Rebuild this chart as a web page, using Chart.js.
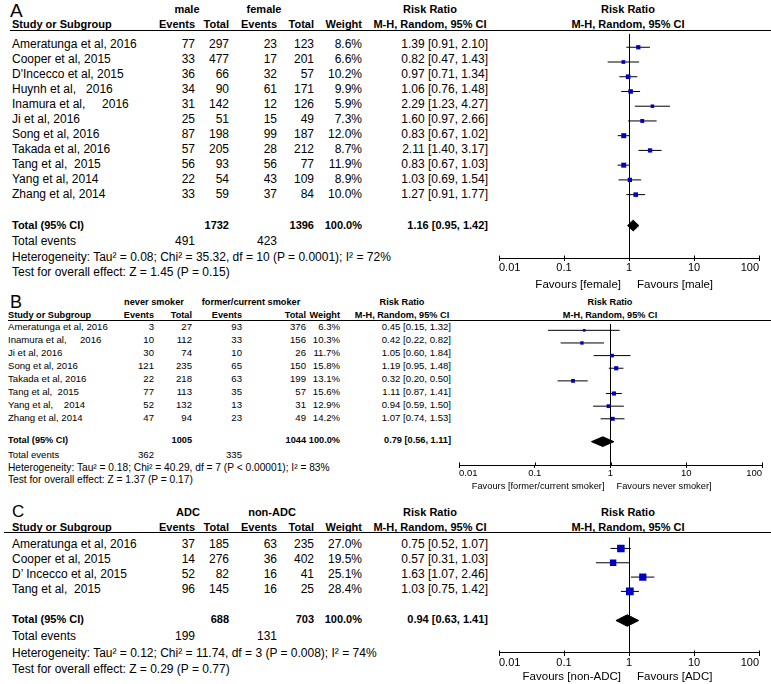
<!DOCTYPE html>
<html>
<head>
<meta charset="utf-8">
<title>Forest plots</title>
<script src="https://cdn.jsdelivr.net/npm/chart.js@4.4.1/dist/chart.umd.min.js"></script>
<style>
html, body { margin: 0; padding: 0; background: #fff; }
#page { position: relative; width: 771px; height: 684px; overflow: hidden; font-family: "Liberation Sans", Arial, sans-serif; color: #000; }
.t { position: absolute; white-space: pre; line-height: 1; }
.rule { position: absolute; height: 1px; background: #000; }
canvas { position: absolute; }
</style>
</head>
<body>
<div id="page"></div>
<script>
// ---- A: male vs female ----
var studiesA = ['Ameratunga et al, 2016', 'Cooper et al, 2015', "D'Incecco et al, 2015", 'Huynh et al,   2016', 'Inamura et al,     2016', 'Ji et al, 2016', 'Song et al, 2016', 'Takada et al, 2016', 'Tang et al,  2015', 'Yang et al, 2014', 'Zhang et al, 2014'];
var maleEventsA = [77, 33, 36, 34, 31, 25, 87, 57, 56, 22, 33];
var maleTotalA = [297, 477, 66, 90, 142, 51, 198, 205, 93, 54, 59];
var femaleEventsA = [23, 17, 32, 61, 12, 15, 99, 28, 56, 43, 37];
var femaleTotalA = [123, 201, 57, 171, 126, 49, 187, 212, 77, 109, 84];
var weightA = [8.6, 6.6, 10.2, 9.9, 5.9, 7.3, 12.0, 8.7, 11.9, 8.9, 10.0];
var rrA = [1.39, 0.82, 0.97, 1.06, 2.29, 1.60, 0.83, 2.11, 0.83, 1.03, 1.27];
var lowA = [0.91, 0.47, 0.71, 0.76, 1.23, 0.97, 0.67, 1.40, 0.67, 0.69, 0.91];
var highA = [2.10, 1.43, 1.34, 1.48, 4.27, 2.66, 1.02, 3.17, 1.03, 1.54, 1.77];
var totalA = { n1: 1732, n2: 1396, e1: 491, e2: 423, rr: 1.16, lo: 0.95, hi: 1.42 };
var groupsA = ['male', 'female'];
var favoursA = ['Favours [female]', 'Favours [male]'];
var hetA = 'Heterogeneity: Tau\u00b2 = 0.08; Chi\u00b2 = 35.32, df = 10 (P = 0.0001); I\u00b2 = 72%';
var testA = 'Test for overall effect: Z = 1.45 (P = 0.15)';

// ---- B: never vs former/current smoker ----
var studiesB = ['Ameratunga et al, 2016', 'Inamura et al,     2016', 'Ji et al, 2016', 'Song et al, 2016', 'Takada et al, 2016', 'Tang et al,  2015', 'Yang et al,    2014', 'Zhang et al, 2014'];
var neverEventsB = [3, 10, 30, 121, 22, 77, 52, 47];
var neverTotalB = [27, 112, 74, 235, 218, 113, 132, 94];
var formerEventsB = [93, 33, 10, 65, 63, 35, 13, 23];
var formerTotalB = [376, 156, 26, 150, 199, 57, 31, 49];
var weightB = [6.3, 10.3, 11.7, 15.8, 13.1, 15.6, 12.9, 14.2];
var rrB = [0.45, 0.42, 1.05, 1.19, 0.32, 1.11, 0.94, 1.07];
var lowB = [0.15, 0.22, 0.60, 0.95, 0.20, 0.87, 0.59, 0.74];
var highB = [1.32, 0.82, 1.84, 1.48, 0.50, 1.41, 1.50, 1.53];
var totalB = { n1: 1005, n2: 1044, e1: 362, e2: 335, rr: 0.79, lo: 0.56, hi: 1.11 };
var groupsB = ['never smoker', 'former/current smoker'];
var favoursB = ['Favours [former/current smoker]', 'Favours never smoker]'];
var hetB = 'Heterogeneity: Tau\u00b2 = 0.18; Chi\u00b2 = 40.29, df = 7 (P < 0.00001); I\u00b2 = 83%';
var testB = 'Test for overall effect: Z = 1.37 (P = 0.17)';

// ---- C: ADC vs non-ADC ----
var studiesC = ['Ameratunga et al, 2016', 'Cooper et al, 2015', 'D\u2019 Incecco et al, 2015', 'Tang et al,  2015'];
var adcEventsC = [37, 14, 52, 96];
var adcTotalC = [185, 276, 82, 145];
var nonEventsC = [63, 36, 16, 16];
var nonTotalC = [235, 402, 41, 25];
var weightC = [27.0, 19.5, 25.1, 28.4];
var rrC = [0.75, 0.57, 1.63, 1.03];
var lowC = [0.52, 0.31, 1.07, 0.75];
var highC = [1.07, 1.03, 2.46, 1.42];
var totalC = { n1: 688, n2: 703, e1: 199, e2: 131, rr: 0.94, lo: 0.63, hi: 1.41 };
var groupsC = ['ADC', 'non-ADC'];
var favoursC = ['Favours [non-ADC]', 'Favours [ADC]'];
var hetC = 'Heterogeneity: Tau\u00b2 = 0.12; Chi\u00b2 = 11.74, df = 3 (P = 0.008); I\u00b2 = 74%';
var testC = 'Test for overall effect: Z = 0.29 (P = 0.77)';

var xTicks = [0.01, 0.1, 1, 10, 100];
var BLUE = '#0000c4';

Chart.defaults.font.family = '"Liberation Sans", Arial, sans-serif';
Chart.defaults.color = '#000';

var page = document.getElementById('page');

function put(x, y, s, size, bold, align) {
	var d = document.createElement('div');
	d.className = 't';
	d.textContent = s;
	d.style.fontSize = size + 'px';
	if (bold) d.style.fontWeight = 'bold';
	d.style.left = x + 'px';
	d.style.top = (y - size / 2) + 'px';
	if (align === 'right') d.style.transform = 'translateX(-100%)';
	if (align === 'center') d.style.transform = 'translateX(-50%)';
	page.appendChild(d);
}

function rule(x, y, w) {
	var d = document.createElement('div');
	d.className = 'rule';
	d.style.left = x + 'px';
	d.style.top = y + 'px';
	d.style.width = w + 'px';
	page.appendChild(d);
}

function ci(v, lo, hi) {
	return v.toFixed(2) + ' [' + lo.toFixed(2) + ', ' + hi.toFixed(2) + ']';
}

// upward tick halves + the two "Favours" captions around RR = 1
var forestDeco = {
	id: 'forestDeco',
	afterDraw: function (chart, args, o) {
		var xs = chart.scales.x, c = chart.ctx, y0 = Math.round(xs.top) + 0.5;
		c.save();
		c.strokeStyle = '#000';
		c.lineWidth = 1;
		xs.ticks.forEach(function (t) {
			var px = Math.round(xs.getPixelForValue(t.value)) + 0.5;
			c.beginPath();
			c.moveTo(px, y0 - o.up);
			c.lineTo(px, y0);
			c.stroke();
		});
		var p1 = xs.getPixelForValue(1);
		c.fillStyle = '#000';
		c.font = o.size + 'px "Liberation Sans", Arial, sans-serif';
		c.textBaseline = 'middle';
		c.textAlign = 'right';
		c.fillText(o.left, p1 - o.gap, y0 + o.dy);
		c.textAlign = 'left';
		c.fillText(o.right, p1 + o.gap, y0 + o.dy);
		c.restore();
	}
};

function panel(D, L) {
	var i, c = L.col;
	put(L.letterX, L.letterY, D.letter, L.letterSize);
	put(L.g1, L.h1, D.groups[0], L.hs, true, 'center');
	put(L.g2, L.h1, D.groups[1], L.hs, true, 'center');
	put(L.rrHead, L.h1, 'Risk Ratio', L.hs, true, 'center');
	put(L.plotHead, L.h1, 'Risk Ratio', L.hs, true, 'center');
	put(L.nameX, L.h2, 'Study or Subgroup', L.hs, true);
	put(c[0], L.h2, 'Events', L.hs, true, 'right');
	put(c[1], L.h2, 'Total', L.hs, true, 'right');
	put(c[2], L.h2, 'Events', L.hs, true, 'right');
	put(c[3], L.h2, 'Total', L.hs, true, 'right');
	put(c[4], L.h2, 'Weight', L.hs, true, 'right');
	put(L.rrHead, L.h2, 'M-H, Random, 95% CI', L.hs, true, 'center');
	put(L.plotHead, L.h2, 'M-H, Random, 95% CI', L.hs, true, 'center');
	rule(L.ruleX, L.ruleY, 771 - L.ruleX);

	for (i = 0; i < D.names.length; i++) {
		var y = L.row0 + L.step * i;
		put(L.nameX, y, D.names[i], L.fs);
		put(c[0], y, String(D.e1[i]), L.fs, false, 'right');
		put(c[1], y, String(D.n1[i]), L.fs, false, 'right');
		put(c[2], y, String(D.e2[i]), L.fs, false, 'right');
		put(c[3], y, String(D.n2[i]), L.fs, false, 'right');
		put(c[4], y, D.w[i].toFixed(1) + '%', L.fs, false, 'right');
		put(c[5], y, ci(D.rr[i], D.lo[i], D.hi[i]), L.fs, false, 'right');
	}
	var T = D.total;
	put(L.nameX, L.totalY, 'Total (95% CI)', L.hs, true);
	put(c[1], L.totalY, String(T.n1), L.hs, true, 'right');
	put(c[3], L.totalY, String(T.n2), L.hs, true, 'right');
	put(c[4], L.totalY, '100.0%', L.hs, true, 'right');
	put(c[5], L.totalY, ci(T.rr, T.lo, T.hi), L.hs, true, 'right');
	put(L.nameX, L.eventsY, 'Total events', L.fs);
	put(c[0], L.eventsY, String(T.e1), L.fs, false, 'right');
	put(c[2], L.eventsY, String(T.e2), L.fs, false, 'right');
	put(L.nameX, L.hetY, D.het, L.footFs);
	put(L.nameX, L.testY, D.test, L.footFs);

	// forest plot
	var cv = document.createElement('canvas');
	var top = L.ruleY, areaH = L.axisY - top;
	cv.width = L.cvW;
	cv.height = areaH + L.axisH;
	cv.style.left = L.cvX + 'px';
	cv.style.top = top + 'px';
	page.appendChild(cv);

	var datasets = [{
		data: D.rr.map(function (v, k) { return { x: v, y: k }; }),
		showLine: false,
		pointStyle: 'rect',
		pointRadius: D.w.map(function (w) { return L.sq * Math.sqrt(w) / Math.SQRT2; }),
		pointBackgroundColor: BLUE,
		pointBorderWidth: 0,
		order: 0
	}];
	for (i = 0; i < D.rr.length; i++) {
		datasets.push({
			data: [{ x: D.lo[i], y: i }, { x: D.hi[i], y: i }],
			borderColor: '#000',
			borderWidth: 1,
			pointRadius: 0,
			order: 1
		});
	}
	var ty = (L.totalY - L.row0) / L.step, dh = L.dia / L.step;
	datasets.push({
		data: [{ x: T.lo, y: ty }, { x: T.rr, y: ty - dh }, { x: T.hi, y: ty }, { x: T.rr, y: ty + dh }, { x: T.lo, y: ty }],
		borderColor: '#000',
		borderWidth: 1,
		backgroundColor: '#000',
		fill: 'shape',
		pointRadius: 0,
		order: 1
	});

	new Chart(cv.getContext('2d'), {
		type: 'line',
		data: { datasets: datasets },
		options: {
			responsive: false,
			animation: false,
			devicePixelRatio: 1,
			layout: { padding: { left: L.padL, right: L.cvW - L.padL - L.areaW, top: 0, bottom: 0 } },
			plugins: {
				legend: { display: false },
				tooltip: { enabled: false },
				forestDeco: { up: L.up, gap: L.gap, dy: L.favDy, size: L.favFs, left: D.favours[0], right: D.favours[1] }
			},
			scales: {
				x: {
					type: 'logarithmic',
					position: 'bottom',
					min: xTicks[0],
					max: xTicks[xTicks.length - 1],
					afterBuildTicks: function (s) { s.ticks = xTicks.map(function (v) { return { value: v }; }); },
					afterFit: function (s) { s.height = L.axisH; },
					ticks: {
						autoSkip: false,
						maxRotation: 0,
						align: 'inner',
						padding: L.tickPad,
						font: { size: L.tickFs },
						color: '#000',
						callback: function (v) { return String(v); }
					},
					grid: {
						color: function (ctx) { return ctx.tick && ctx.tick.value === 1 ? '#000' : 'rgba(0,0,0,0)'; },
						tickColor: '#000',
						tickLength: L.down,
						lineWidth: 1
					},
					border: { display: true, color: '#000', width: 1 }
				},
				y: {
					type: 'linear',
					display: false,
					reverse: true,
					min: (top - L.row0) / L.step,
					max: (L.axisY - L.row0) / L.step
				}
			}
		},
		plugins: [forestDeco]
	});
}

panel({
	letter: 'A', groups: groupsA, favours: favoursA, names: studiesA,
	e1: maleEventsA, n1: maleTotalA, e2: femaleEventsA, n2: femaleTotalA,
	w: weightA, rr: rrA, lo: lowA, hi: highA, total: totalA, het: hetA, test: testA
}, {
	letterX: 10, letterY: 10, letterSize: 19,
	h1: 9, h2: 24, hs: 11, fs: 12, footFs: 12, nameX: 12,
	col: [195, 229, 277, 314, 362, 488], g1: 187, g2: 264, rrHead: 430, plotHead: 628,
	ruleX: 10, ruleY: 30, row0: 43.5, step: 15,
	totalY: 225, eventsY: 241, hetY: 256.5, testY: 272,
	cvX: 470, cvW: 320, padL: 29, areaW: 260, axisY: 258, axisH: 34,
	tickFs: 11, tickPad: 0, down: 3, up: 3, favFs: 11.5, favDy: 26, gap: 8,
	sq: 1.45, dia: 5.5
});

panel({
	letter: 'B', groups: groupsB, favours: favoursB, names: studiesB,
	e1: neverEventsB, n1: neverTotalB, e2: formerEventsB, n2: formerTotalB,
	w: weightB, rr: rrB, lo: lowB, hi: highB, total: totalB, het: hetB, test: testB
}, {
	letterX: 10, letterY: 301.5, letterSize: 18,
	h1: 303, h2: 315.5, hs: 9.2, fs: 9.6, footFs: 10.2, nameX: 8,
	col: [154, 192, 242, 306, 340, 451], g1: 154, g2: 251, rrHead: 402, plotHead: 610,
	ruleX: 8, ruleY: 320, row0: 326.5, step: 13,
	totalY: 441, eventsY: 455, hetY: 468, testY: 480,
	cvX: 430, cvW: 360, padL: 29, areaW: 303, axisY: 465, axisH: 30,
	tickFs: 9.5, tickPad: 0, down: 3, up: 3, favFs: 9.3, favDy: 21, gap: 6,
	sq: 1.05, dia: 5
});

panel({
	letter: 'C', groups: groupsC, favours: favoursC, names: studiesC,
	e1: adcEventsC, n1: adcTotalC, e2: nonEventsC, n2: nonTotalC,
	w: weightC, rr: rrC, lo: lowC, hi: highC, total: totalC, het: hetC, test: testC
}, {
	letterX: 12, letterY: 511, letterSize: 17,
	h1: 512, h2: 527, hs: 11, fs: 12, footFs: 12, nameX: 12,
	col: [195, 229, 277, 314, 362, 488], g1: 188, g2: 272, rrHead: 430, plotHead: 628,
	ruleX: 4, ruleY: 532, row0: 543.5, step: 15,
	totalY: 619, eventsY: 636, hetY: 653, testY: 669,
	cvX: 470, cvW: 320, padL: 29, areaW: 260, axisY: 653, axisH: 31,
	tickFs: 11, tickPad: 0, down: 3, up: 3, favFs: 11.5, favDy: 23, gap: 8,
	sq: 1.45, dia: 6
});
</script>
</body>
</html>
